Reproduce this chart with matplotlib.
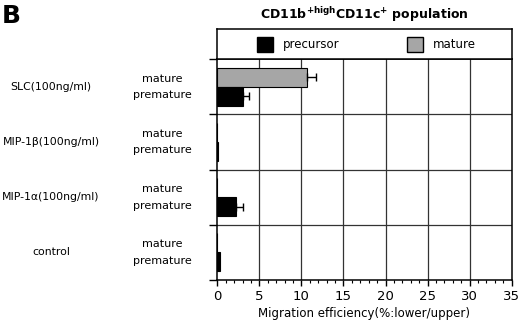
import numpy as np
import matplotlib
matplotlib.use("Agg")
import matplotlib.pyplot as plt
from matplotlib.patches import Rectangle

# data (top to bottom)
groups = ["SLC(100ng/ml)", "MIP-1\u03b2(100ng/ml)", "MIP-1\u03b1(100ng/ml)", "control"]
mature = [10.7, 0.0, 0.0, 0.0]
mature_err = [1.0, 0.0, 0.0, 0.0]
precursor = [3.1, 0.1, 2.2, 0.35]
precursor_err = [0.7, 0.0, 0.8, 0.0]

plt.rcParams.update({"font.family": "DejaVu Sans", "font.size": 8})

W, H = 520, 326
fig = plt.figure(figsize=(W / 100, H / 100), dpi=100)
ax = fig.add_axes([217.3 / W, 1 - 280 / H, 294.4 / W, 220.7 / H])
lax = fig.add_axes([217.3 / W, 1 - 59.3 / H, 294.4 / W, 30.3 / H])

y = np.arange(len(groups))
h = 0.345
ax.barh(y - h / 2, mature, h, color="#a6a6a6", edgecolor="black", lw=0.8, zorder=3)
ax.barh(y + h / 2, precursor, h, color="black", edgecolor="black", lw=0.8, zorder=3)
for off, vals, errs in [(-h / 2, mature, mature_err), (h / 2, precursor, precursor_err)]:
    for i, (v, e) in enumerate(zip(vals, errs)):
        if e > 0:
            ax.errorbar(v, i + off, xerr=[[0], [e]], fmt="none", ecolor="black",
                        elinewidth=1, capsize=3, capthick=1, zorder=4)

ax.set_xlim(0, 35)
ax.set_ylim(len(groups) - 0.5, -0.5)
ax.set_xticks(np.arange(0, 36, 5))
ax.set_xticks(np.arange(0, 36, 1), minor=True)
ax.tick_params(axis="x", which="major", length=4, width=1, labelsize=9.5, pad=3)
ax.tick_params(axis="x", which="minor", length=2.5, width=0.8)
ax.set_yticks(np.arange(-0.5, len(groups), 1))
ax.set_yticklabels([])
ax.tick_params(axis="y", length=6, width=1, direction="out")
for v in range(5, 35, 5):
    ax.axvline(v, color="#333333", lw=0.9, zorder=1)
for b in np.arange(0.5, len(groups) - 0.5, 1):
    ax.axhline(b, color="#333333", lw=0.9, zorder=1)
for s in ax.spines.values():
    s.set_linewidth(1.1)
ax.set_xlabel("Migration efficiency(%:lower/upper)", fontsize=8.5, labelpad=3)

for i, g in enumerate(groups):
    ax.text(51 / W, i, g, ha="center", va="center", fontsize=7.8,
            transform=ax.get_yaxis_transform().__class__(fig.transFigure, ax.transData))
    ax.text(-6.5, i - 0.15, "mature", ha="center", va="center", fontsize=8)
    ax.text(-6.5, i + 0.15, "premature", ha="center", va="center", fontsize=8)

# legend box
lax.set_xlim(0, 294.4)
lax.set_ylim(0, 1)
lax.set_xticks([])
lax.set_yticks([])
for s in lax.spines.values():
    s.set_linewidth(1.1)
lax.add_patch(Rectangle((256.7 - 217.3, 0.23), 16, 0.5, facecolor="black", edgecolor="black"))
lax.text(283 - 217.3, 0.5, "precursor", va="center", fontsize=8.5)
lax.add_patch(Rectangle((407.3 - 217.3, 0.23), 16, 0.5, facecolor="#a6a6a6", edgecolor="black"))
lax.text(433 - 217.3, 0.5, "mature", va="center", fontsize=8.5)

fig.text(364 / W, 1 - 15 / H, r"CD11b$^{\mathbf{+high}}$CD11c$^{\mathbf{+}}$ population",
         ha="center", va="center", fontsize=9, fontweight="bold")
fig.text(2 / W, 1 - 16 / H, "B", ha="left", va="center", fontsize=18, fontweight="bold")

fig.savefig("out.png", dpi=100)
